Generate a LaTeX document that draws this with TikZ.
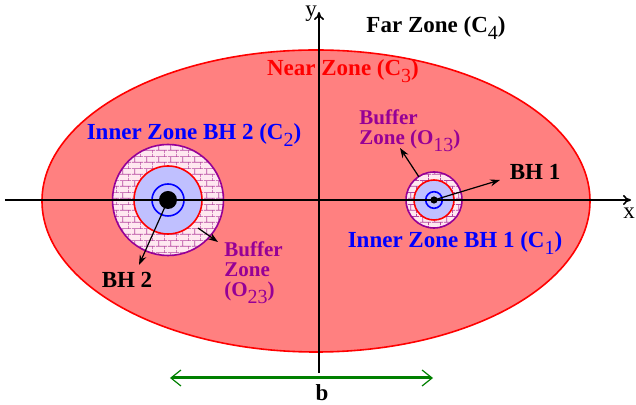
\documentclass[tikz,border=0pt]{standalone}
\usepackage{fontspec}
\setmainfont{Liberation Serif}
\usetikzlibrary{arrows.meta,patterns}

\definecolor{nearred}{RGB}{255,128,128}
\definecolor{innerblue}{RGB}{192,192,255}
\definecolor{bufferpink}{RGB}{255,232,240}
\definecolor{bufferpurple}{RGB}{150,0,150}
\definecolor{brickline}{RGB}{180,70,160}
\definecolor{basegreen}{RGB}{0,128,0}

% lowered, thin subscript as in the zone labels
\newcommand{\zsub}[1]{\raisebox{-3.6pt}{\fontsize{10}{10}\selectfont\mdseries #1}}

% small bricks for the buffer zones
\pgfdeclarepatternformonly{smallbricks}{\pgfpointorigin}{\pgfqpoint{6pt}{6pt}}{\pgfqpoint{6pt}{6pt}}{
  \pgfsetlinewidth{0.35pt}
  \pgfpathmoveto{\pgfqpoint{0pt}{1.5pt}}\pgfpathlineto{\pgfqpoint{6pt}{1.5pt}}
  \pgfpathmoveto{\pgfqpoint{0pt}{4.5pt}}\pgfpathlineto{\pgfqpoint{6pt}{4.5pt}}
  \pgfpathmoveto{\pgfqpoint{1.5pt}{1.5pt}}\pgfpathlineto{\pgfqpoint{1.5pt}{4.5pt}}
  \pgfpathmoveto{\pgfqpoint{4.5pt}{4.5pt}}\pgfpathlineto{\pgfqpoint{4.5pt}{6pt}}
  \pgfpathmoveto{\pgfqpoint{4.5pt}{0pt}}\pgfpathlineto{\pgfqpoint{4.5pt}{1.5pt}}
  \pgfusepath{stroke}
}

\begin{document}
\begin{tikzpicture}[
    x=0.5pt, y=0.5pt,
    zone/.style={font=\fontsize{11.5}{12}\selectfont\bfseries, inner sep=0pt},
    buffer/.style={font=\fontsize{10.5}{10}\selectfont\bfseries, text=bufferpurple, align=left, inner sep=0pt},
    ring/.style={thick},
    pointer/.style={-{Stealth[length=5pt,width=3.5pt]}, semithick},
    axis/.style={-{To[length=4pt,width=5pt]}, thick},
    baseline_arrow/.style={{Straight Barb[length=5pt,width=8pt,line width=0.6pt]}-{Straight Barb[length=5pt,width=8pt,line width=0.6pt]}, line width=1.5pt, basegreen}
]
    \useasboundingbox (-319,-205) rectangle (317,200);

    % Near zone (C3)
    \draw[red, thick, fill=nearred] (-3,-1) ellipse [x radius=274, y radius=151];

    % The two black holes with their zones
    \coordinate (bh2) at (-151,0);
    \coordinate (bh1) at (115,0);
    \foreach \bh/\rb/\ri/\rc/\rh in {bh2/55.5/34/16/9, bh1/28/20/8.3/3.6} {
        \fill[bufferpink] (\bh) circle (\rb);
        \fill[pattern=smallbricks, pattern color=brickline] (\bh) circle (\rb);
        \draw[ring, bufferpurple] (\bh) circle (\rb);
        \draw[ring, red, fill=innerblue] (\bh) circle (\ri);
        \draw[ring, blue] (\bh) circle (\rc);
        \fill (\bh) circle (\rh);
    }

    % Axes
    \coordinate (xs) at (-314,0);
    \coordinate (xe) at (312,0);
    \coordinate (ys) at (0,-173);
    \coordinate (ye) at (0,188);
    \draw[axis] (xs) -- (xe);
    \draw[axis] (ys) -- (ye);
    \node[font=\fontsize{11.5}{12}\selectfont, inner sep=0pt] (xlbl) at (310,-13) {x};
    \node[font=\fontsize{11.5}{12}\selectfont, inner sep=0pt] (ylbl) at (-8,186) {y};

    % Zone labels
    \node[zone] (far) at (117,172) {Far Zone (C\zsub{4})};
    \node[zone, text=red] (near) at (24,129) {Near Zone (C\zsub{3})};
    \node[zone, text=blue] (inner2) at (-125,65) {Inner Zone BH 2 (C\zsub{2})};
    \node[zone, text=blue] (inner1) at (136,-43) {Inner Zone BH 1 (C\zsub{1})};
    \node[buffer, anchor=north west] (buf13) at (40,91) {Buffer\\Zone (O\zsub{13})};
    \node[buffer, anchor=north west] (buf23) at (-95,-41) {Buffer\\Zone\\(O\zsub{23})};
    \node[zone] (bh1lbl) at (216,28) {BH 1};
    \node[zone] (bh2lbl) at (-192,-80) {BH 2};

    % Pointers
    \coordinate (bh2tip) at (-180,-65);
    \coordinate (bh1tip) at (181,20);
    \coordinate (o23from) at (-121,-28);
    \coordinate (o23tip) at (-101,-42);
    \coordinate (o13from) at (100,23);
    \coordinate (o13tip) at (81,52);
    \draw[pointer] (bh2) -- (bh2tip);
    \draw[pointer] (bh1) -- (bh1tip);
    \draw[pointer] (o23from) -- (o23tip);
    \draw[pointer] (o13from) -- (o13tip);

    % Separation b
    \coordinate (bl) at (-149,-178);
    \coordinate (br) at (114,-178);
    \draw[baseline_arrow] (bl) -- (br);
    \node[zone] (blbl) at (3,-193) {b};
\end{tikzpicture}
\end{document}
